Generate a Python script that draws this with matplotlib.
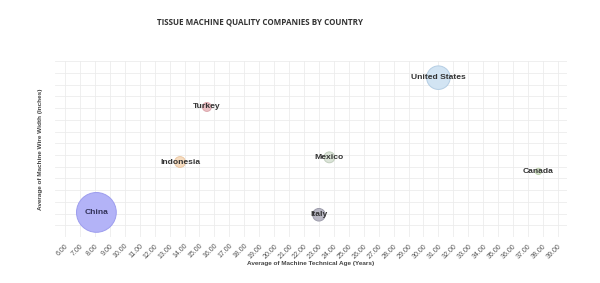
import matplotlib.pyplot as plt
import numpy as np

# Data
countries = ['China', 'Indonesia', 'Turkey', 'United States', 'Mexico', 'Italy', 'Canada']
tech_age = [8.1, 13.7, 15.5, 31.0, 23.7, 23.0, 37.7]
wire_width = [2.1, 6.4, 11.1, 13.6, 6.8, 1.9, 5.6]
companies = [40, 3, 2, 14, 3, 4, 1]
colors = ['#b3b3f7', '#f6dcc0', '#ebc0c4', '#d2e4f3', '#dbe4d8', '#b9b8c4', '#d8e6cd']
edges = ['#9d9dee', '#ebc8a4', '#dca6ac', '#b4cde3', '#c2cfbe', '#9d9cab', '#bdd0ae']
label_colors = ['#33335a', '#333333', '#333333', '#333333', '#333333', '#333333', '#333333']

x_ticks = np.arange(6, 40, 1)

fig = plt.figure(figsize=(6, 2.83), dpi=100)
ax = fig.add_axes([0.0917, 0.1625, 0.853, 0.621])

ax.scatter(tech_age, wire_width, s=[20.5 * c for c in companies], c=colors,
           edgecolors=edges, linewidths=0.7, zorder=3)

for name, x, y, lc in zip(countries, tech_age, wire_width, label_colors):
    ax.text(x, y, name, ha='center', va='center', fontsize=6.1, fontweight='bold',
            color=lc, family='Liberation Sans', zorder=4)

ax.set_xlim(5.33, 39.6)
ax.set_ylim(0, 15)
ax.set_xticks(x_ticks)
ax.set_xticklabels(['%.2f' % v for v in x_ticks], rotation=45, ha='right',
                   rotation_mode='anchor', fontsize=5.0, color='#555555',
                   family='Liberation Sans')
ax.set_yticks(np.arange(0, 16, 1))
ax.set_yticklabels([])
ax.tick_params(length=0, pad=4)
ax.grid(True, color='#ececec', linewidth=0.6, zorder=0)
for s in ax.spines.values():
    s.set_visible(False)

ax.set_xlabel('Average of Machine Technical Age (Years)', fontsize=4.6, fontweight='bold',
              color='#444444', family='Liberation Sans', labelpad=1)
ax.set_ylabel('Average of Machine Wire Width (Inches)', fontsize=4.6, fontweight='bold',
              color='#444444', family='Liberation Sans', labelpad=5)

fig.text(0.433, 0.922, 'TISSUE MACHINE QUALITY COMPANIES BY COUNTRY', ha='center', va='center',
         fontsize=5.8, fontweight='bold', color='#333333', family='Open Sans')

fig.savefig('out.png', dpi=100, facecolor='white')
